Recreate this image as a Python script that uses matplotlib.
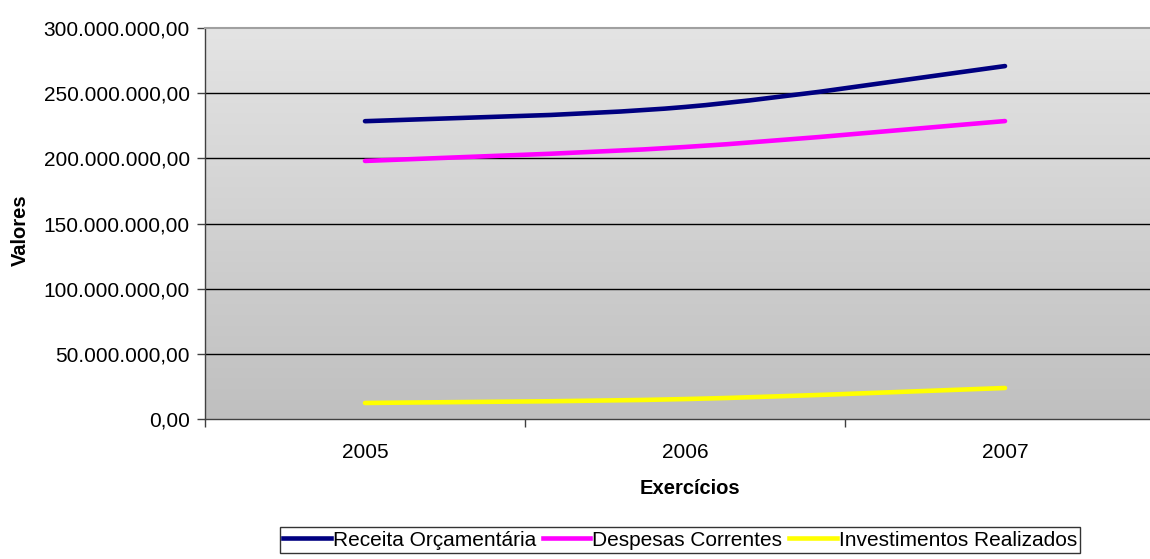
import matplotlib
matplotlib.use("Agg")
import matplotlib.pyplot as plt
import numpy as np
from matplotlib.path import Path
from matplotlib.patches import PathPatch
from matplotlib.lines import Line2D
from matplotlib import font_manager

years = ["2005", "2006", "2007"]
receita = [228.5e6, 239.4e6, 270.8e6]
despesas = [198.0e6, 208.7e6, 228.6e6]
investimentos = [12.3e6, 15.3e6, 23.8e6]
series_names = ["Receita Orçamentária", "Despesas Correntes", "Investimentos Realizados"]
series_colors = ["#000080", "#FF00FF", "#FFFF00"]
yticks = [0, 50e6, 100e6, 150e6, 200e6, 250e6, 300e6]

names = {f.name for f in font_manager.fontManager.ttflist}
base = "Liberation Sans" if "Liberation Sans" in names else "DejaVu Sans"
plt.rcParams["font.family"] = [base, "DejaVu Sans"]

fig = plt.figure(figsize=(11.5, 5.59), dpi=100)
ax = fig.add_axes([205/1150, 1 - 419/559, 960/1150, 391/559])

# gradient background
grad = np.linspace(0, 1, 256).reshape(-1, 1)
top = np.array([0.894, 0.894, 0.894])
bot = np.array([0.750, 0.750, 0.750])
img = top + (bot - top) * grad[:, :, None] * np.ones((1, 1, 3))
ax.imshow(img, extent=[0, 1, 0, 1], transform=ax.transAxes, aspect="auto", zorder=0)

x = np.arange(1, len(years) + 1)

def smooth_path(xs, ys):
    pts = np.column_stack([xs, ys])
    n = len(pts)
    verts = [pts[0]]
    codes = [Path.MOVETO]
    for i in range(n - 1):
        p0 = pts[i - 1] if i > 0 else pts[i]
        p1 = pts[i]
        p2 = pts[i + 1]
        p3 = pts[i + 2] if i + 2 < n else pts[i + 1]
        c1 = p1 + (p2 - p0) / 6
        c2 = p2 - (p3 - p1) / 6
        verts += [c1, c2, p2]
        codes += [Path.CURVE4] * 3
    return Path(verts, codes)

for vals, col in zip([receita, despesas, investimentos], series_colors):
    patch = PathPatch(smooth_path(x, vals), facecolor="none", edgecolor=col,
                      linewidth=3.3, capstyle="round", joinstyle="round", zorder=3)
    ax.add_patch(patch)

ax.set_xlim(0.5, 3.5)
ax.set_ylim(0, 300e6)

def fmt(v):
    s = f"{v:,.2f}"
    return s.replace(",", "X").replace(".", ",").replace("X", ".")

ax.set_yticks(yticks)
ax.set_yticklabels([fmt(v) for v in yticks], fontsize=15)
ax.set_xticks(x)
ax.set_xticklabels(years, fontsize=15)
ax.set_xticks([0.5, 1.5, 2.5, 3.5], minor=True)
ax.tick_params(axis="x", which="major", length=0, pad=17)
ax.tick_params(axis="x", which="minor", length=6, width=1, direction="out", color="#404040")
ax.tick_params(axis="y", length=6, width=1, direction="out", pad=5, color="#404040")

for yv in yticks[1:-1]:
    ax.axhline(yv, color="black", linewidth=1.0, zorder=1)

ax.spines["left"].set_color("#404040")
ax.spines["bottom"].set_color("#404040")
ax.spines["top"].set_color("#a0a0a0")
ax.spines["top"].set_linewidth(1.5)
ax.spines["right"].set_visible(False)
for s in ["left", "bottom"]:
    ax.spines[s].set_linewidth(1.0)

fig.text(20/1150, 1 - 230/559, "Valores", rotation=90, fontsize=14.5, fontweight="bold",
         ha="center", va="center")
fig.text(690/1150, 1 - 488/559, "Exercícios", fontsize=14.5, fontweight="bold",
         ha="center", va="center")

handles = [Line2D([0], [0], color=c, linewidth=3.3) for c in series_colors]
leg = fig.legend(handles, series_names, loc="center", bbox_to_anchor=(680/1150, 1 - 540/559),
                 ncol=3, frameon=True, fancybox=False, edgecolor="black",
                 prop={"size": 15}, handlelength=2.3,
                 handletextpad=0.1, columnspacing=0.3, borderpad=0.15, borderaxespad=0)
leg.get_frame().set_linewidth(1.0)

fig.savefig("out.png", dpi=100)
